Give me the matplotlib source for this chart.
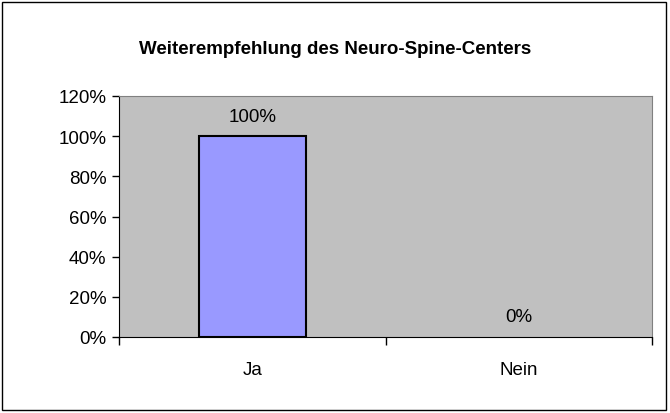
import matplotlib
matplotlib.use("Agg")
import matplotlib.pyplot as plt
from matplotlib.patches import Rectangle

categories = ["Ja", "Nein"]
values = [100, 0]
yticks = [0, 20, 40, 60, 80, 100, 120]

plt.rcParams['font.family'] = ['Liberation Sans', 'DejaVu Sans']
fs = 13.5

fig = plt.figure(figsize=(6.7, 4.14), dpi=100)
ax = fig.add_axes([119/670, 1-338/414, (652-119)/670, (338-97)/414])

# outer chart border
fig.patches.append(Rectangle((2/670, 3/414), 664/670, 408/414, transform=fig.transFigure,
                             fill=False, edgecolor="black", linewidth=1))

ax.set_facecolor("#C0C0C0")
x = range(len(categories))
ax.bar(x, values, width=0.4, color="#9999FF", edgecolor="black",
       linewidth=[1.5 if v > 0 else 0 for v in values], zorder=3)

for xi, v in zip(x, values):
    ax.text(xi, v + 10, f"{v}%", ha="center", va="center", fontsize=fs)

ax.set_xlim(-0.5, 1.5)
ax.set_ylim(0, 120)
ax.set_yticks(yticks)
ax.set_yticklabels([f"{t}%" for t in yticks], fontsize=fs)
ax.set_xticks([0, 1])
ax.set_xticklabels(categories, fontsize=fs)
ax.tick_params(axis="x", which="major", length=0, pad=17)
ax.set_xticks([-0.5, 0.5, 1.5], minor=True)
ax.tick_params(axis="x", which="minor", length=6, width=1, color="black")
ax.tick_params(axis="y", length=5, width=1, pad=4)

ax.spines["top"].set_color("#808080")
ax.spines["right"].set_color("#808080")
ax.spines["left"].set_color("black")
ax.spines["bottom"].set_color("black")

fig.text(335/670, 1-50/414, "Weiterempfehlung des Neuro-Spine-Centers",
         ha="center", va="center", fontsize=13.5, fontweight="bold")

fig.savefig("out.png", dpi=100)
